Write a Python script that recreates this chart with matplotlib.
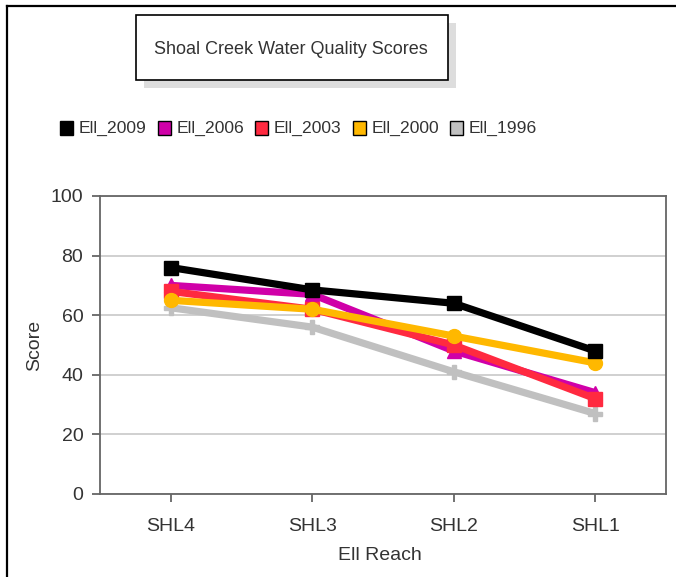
import matplotlib
matplotlib.use("Agg")
import matplotlib.pyplot as plt
from matplotlib.patches import Rectangle
from matplotlib.lines import Line2D

plt.rcParams['font.family'] = ['Liberation Sans', 'DejaVu Sans']

reaches = ["SHL4", "SHL3", "SHL2", "SHL1"]
series_names = ["Ell_2009", "Ell_2006", "Ell_2003", "Ell_2000", "Ell_1996"]
ell_2009 = [76, 68.5, 64, 48]
ell_2006 = [70, 67, 48, 34]
ell_2003 = [68, 62, 50, 32]
ell_2000 = [65, 62, 53, 44]
ell_1996 = [62.5, 56, 41, 27]
values = [ell_2009, ell_2006, ell_2003, ell_2000, ell_1996]
y_ticks = [0, 20, 40, 60, 80, 100]
title = "Shoal Creek Water Quality Scores"
x_label = "Ell Reach"
y_label = "Score"

colors = ["#000000", "#D000A8", "#FF2A40", "#FFB800", "#C0C0C0"]
markers = ["s", "^", "s", "o", "P"]
zorders = [7, 4, 5, 6, 3]
text_color = "#333333"

W, H = 676, 577
fig = plt.figure(figsize=(W / 100, H / 100), dpi=100)

def fx(px):
    return px / W

def fy(py):
    return 1 - py / H

# outer border (top and left)
fig.add_artist(Line2D([fx(7), fx(676)], [fy(6), fy(6)], color="black", lw=1.6))
fig.add_artist(Line2D([fx(7), fx(7)], [fy(6), fy(577)], color="black", lw=1.6))

# title box with shadow
bx0, by0, bx1, by1 = 136, 15, 448, 80
fig.add_artist(Rectangle((fx(bx0 + 8), fy(by1 + 8)), fx(bx1 - bx0), (by1 - by0) / H,
                         facecolor="#DDDDDD", edgecolor="none"))
fig.add_artist(Rectangle((fx(bx0), fy(by1)), fx(bx1 - bx0), (by1 - by0) / H,
                         facecolor="white", edgecolor="black", lw=1.2))
fig.text(fx(291), fy(50), title, ha="center", va="center",
         fontsize=13, color=text_color)

# legend
lx = [60, 158, 255, 353, 450]
ly = 128
sq = 13
for i, name in enumerate(series_names):
    fig.add_artist(Rectangle((fx(lx[i]), fy(ly + sq / 2)), fx(sq), sq / H,
                             facecolor=colors[i], edgecolor="black", lw=1.0))
    fig.text(fx(lx[i] + sq + 6), fy(ly), name, ha="left", va="center",
             fontsize=12.6, color=text_color)

# axes
ax = fig.add_axes([fx(100), fy(494), fx(566), (494 - 196) / H])
xs = list(range(len(reaches)))
for i, name in enumerate(series_names):
    ax.plot(xs, values[i], color=colors[i], lw=5.2, marker=markers[i],
            markersize=10, markeredgecolor=colors[i], zorder=zorders[i],
            solid_capstyle="butt", label=name)

ax.set_xlim(-0.5, len(reaches) - 0.5)
ax.set_ylim(0, 100)
ax.set_yticks(y_ticks)
ax.set_xticks(xs)
ax.set_xticklabels(reaches)
ax.yaxis.grid(True, color="#C8C8C8", lw=1.2)
ax.set_axisbelow(True)
for s in ax.spines.values():
    s.set_color("#666666")
    s.set_linewidth(1.3)
ax.tick_params(axis="both", colors="#666666", labelcolor=text_color,
               labelsize=14, length=6, width=1.3)
ax.tick_params(axis="y", pad=6)
ax.tick_params(axis="x", pad=11)
ax.set_xlabel(x_label, fontsize=14, color=text_color, va="center")
ax.set_ylabel(y_label, fontsize=14, color=text_color, va="center")
ax.xaxis.set_label_coords((380 - 100) / 566, (494 - 555) / 298)
ax.yaxis.set_label_coords((35 - 100) / 566, 0.5)

fig.savefig("out.png", dpi=100, facecolor="white")
